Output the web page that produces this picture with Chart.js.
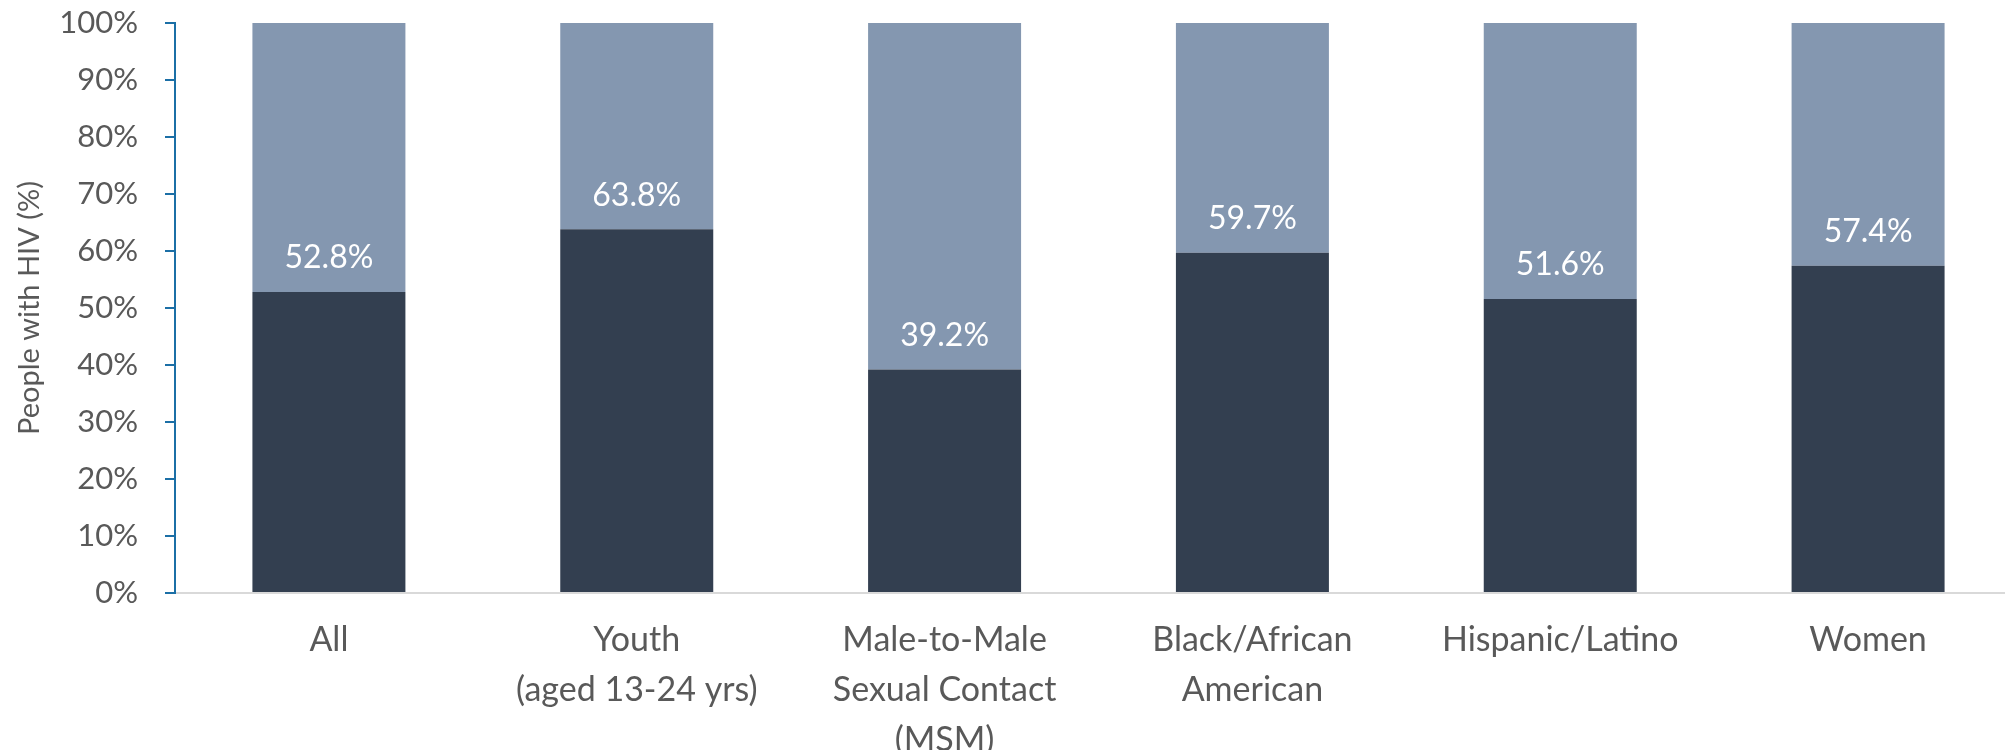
<!DOCTYPE html>
<html>
<head>
<meta charset="utf-8">
<script src="https://cdn.jsdelivr.net/npm/chart.js@4.4.1/dist/chart.umd.min.js"></script>
<style>
    html, body { margin: 0; padding: 0; background: #ffffff; overflow: hidden; }
    #wrap { width: 2005px; height: 750px; overflow: hidden; }
    canvas { display: block; }
</style>
</head>
<body>
<div id="wrap"><canvas id="hivChart" width="2030" height="750"></canvas></div>
<script>
// categories along the x axis
const groups = [
    'All',
    ['Youth', '(aged 13-24 yrs)'],
    ['Male-to-Male', 'Sexual Contact', '(MSM)'],
    ['Black/African', 'American'],
    'Hispanic/Latino',
    'Women'
];

// lower (dark) segment, percent of people with HIV
const shareValues = [52.8, 63.8, 39.2, 59.7, 51.6, 57.4];
// upper (light) segment, remainder up to 100%
const restValues = [47.2, 36.2, 60.8, 40.3, 48.4, 42.6];

const yTicks = [0, 10, 20, 30, 40, 50, 60, 70, 80, 90, 100];

const axisGray = '#595959';
const axisBlue = '#1b6fa6';
const font = 'Lato';

// white value labels sitting just above the dark segment
const valueLabels = {
    id: 'valueLabels',
    afterDatasetsDraw(chart) {
        const { ctx } = chart;
        const meta = chart.getDatasetMeta(0);
        ctx.save();
        ctx.font = '32px ' + font;
        ctx.fillStyle = '#ffffff';
        ctx.textAlign = 'center';
        ctx.textBaseline = 'middle';
        meta.data.forEach((bar, i) => {
            ctx.fillText(shareValues[i].toFixed(1) + '%', bar.x, bar.y - 34);
        });
        ctx.restore();
    }
};

const ctx = document.getElementById('hivChart').getContext('2d');
new Chart(ctx, {
    type: 'bar',
    data: {
        labels: groups,
        datasets: [{
            label: 'Share',
            data: shareValues,
            backgroundColor: '#333f50',
            barPercentage: 0.497,
            categoryPercentage: 1
        }, {
            label: 'Rest',
            data: restValues,
            backgroundColor: '#8497b0',
            barPercentage: 0.497,
            categoryPercentage: 1
        }]
    },
    options: {
        responsive: false,
        animation: false,
        layout: { padding: { top: 0, right: 8, bottom: 0, left: 0 } },
        plugins: {
            legend: { display: false },
            tooltip: { enabled: false }
        },
        scales: {
            x: {
                stacked: true,
                grid: { display: false, drawTicks: false },
                border: { display: true, color: '#d9d9d9', width: 2 },
                ticks: {
                    color: axisGray,
                    padding: 22,
                    maxRotation: 0,
                    autoSkip: false,
                    font: { family: font, size: 34, lineHeight: 1.47 }
                },
                afterFit(scale) { scale.height = 157; }
            },
            y: {
                stacked: true,
                min: 0,
                max: 100,
                afterBuildTicks(scale) { scale.ticks = yTicks.map(v => ({ value: v })); },
                grid: {
                    drawOnChartArea: false,
                    drawTicks: true,
                    tickLength: 10,
                    color: axisBlue,
                    lineWidth: 2
                },
                border: { display: true, color: axisBlue, width: 2 },
                ticks: {
                    color: axisGray,
                    padding: 27,
                    font: { family: font, size: 31 },
                    callback: v => v + '%'
                },
                title: {
                    display: true,
                    text: 'People with HIV (%)',
                    color: axisGray,
                    padding: { top: 12, bottom: 0 },
                    font: { family: font, size: 29 }
                },
                afterFit(scale) {
                    scale.width = 175;
                    scale.paddingTop = 23;
                }
            }
        }
    },
    plugins: [valueLabels]
});
</script>
</body>
</html>
